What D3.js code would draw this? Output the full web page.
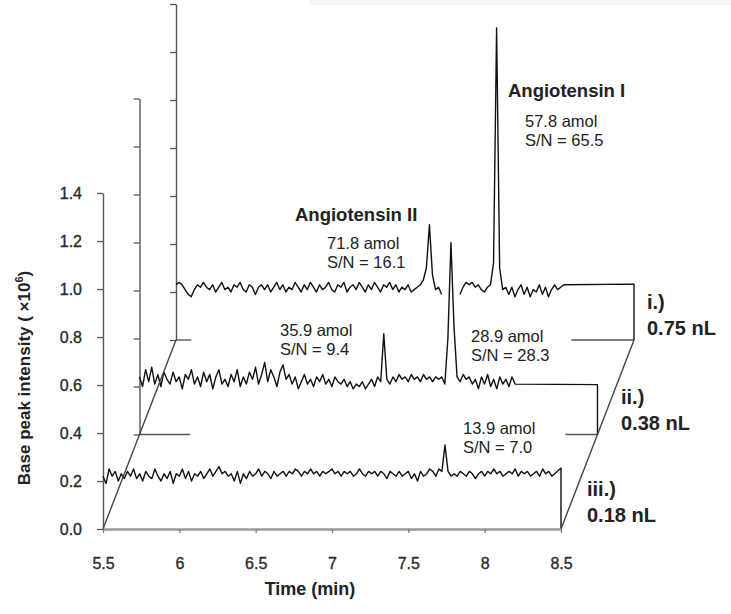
<!DOCTYPE html>
<html>
<head>
<meta charset="utf-8">
<script src="https://cdn.jsdelivr.net/npm/d3@7"></script>
<style>
  body { margin: 0; background: #fff; }
  text { font-family: "Liberation Sans", Arial, sans-serif; }
</style>
</head>
<body>
<script>
// Time axis ticks and intensity ticks (x10^6)
const timeTicks = [5.5, 6, 6.5, 7, 7.5, 8, 8.5];
const intensityTicks = [0, 0.2, 0.4, 0.6, 0.8, 1.0, 1.2, 1.4];
const timeStep = 0.02; // sampling of the traces, starting at 5.5 min

// i.) 0.75 nL  (back trace), null = hidden behind the peak of trace ii
const traceI = [
  0.23, 0.24, 0.23, 0.21, 0.19, 0.18, 0.21, 0.23, 0.22, 0.24,
  0.22, 0.21, 0.23, 0.20, 0.22, 0.24, 0.21, 0.22, 0.20, 0.23,
  0.22, 0.24, 0.21, 0.20, 0.23, 0.22, 0.19, 0.22, 0.23, 0.21,
  0.23, 0.20, 0.22, 0.24, 0.21, 0.23, 0.20, 0.22, 0.21, 0.24,
  0.22, 0.20, 0.23, 0.21, 0.24, 0.22, 0.20, 0.23, 0.21, 0.22,
  0.24, 0.21, 0.20, 0.23, 0.22, 0.24, 0.20, 0.22, 0.23, 0.21,
  0.24, 0.22, 0.20, 0.23, 0.21, 0.24, 0.22, 0.20, 0.23, 0.22,
  0.24, 0.21, 0.23, 0.20, 0.22, 0.21, 0.23, 0.20, 0.21, 0.22,
  0.23, 0.25, 0.30, 0.48, 0.27, 0.21, 0.22, 0.19, null, null,
  null, null, null, 0.19, 0.22, 0.24, 0.23, 0.24, 0.22, 0.23,
  0.21, 0.20, 0.22, 0.23, 0.32, 1.30, 0.30, 0.21, 0.22, 0.19,
  0.22, 0.18, 0.21, 0.23, 0.19, 0.22, 0.18, 0.21, 0.20, 0.23,
  0.19, 0.22, 0.18, 0.21, 0.23, 0.21, 0.22, 0.23
];

// ii.) 0.38 nL  (middle trace)
const traceII = [
  0.24, 0.20, 0.27, 0.22, 0.28, 0.21, 0.25, 0.20, 0.26, 0.23,
  0.21, 0.26, 0.22, 0.24, 0.19, 0.25, 0.23, 0.27, 0.21, 0.24,
  0.20, 0.26, 0.22, 0.25, 0.19, 0.24, 0.27, 0.21, 0.23, 0.20,
  0.25, 0.22, 0.27, 0.20, 0.24, 0.21, 0.26, 0.23, 0.28, 0.21,
  0.25, 0.30, 0.22, 0.27, 0.24, 0.20, 0.26, 0.29, 0.23, 0.25,
  0.21, 0.24, 0.19, 0.22, 0.25, 0.21, 0.23, 0.20, 0.24, 0.22,
  0.25, 0.21, 0.23, 0.20, 0.24, 0.22, 0.21, 0.23, 0.20, 0.22,
  0.19, 0.21, 0.20, 0.22, 0.19, 0.21, 0.23, 0.20, 0.24, 0.22,
  0.42, 0.23, 0.21, 0.24, 0.22, 0.25, 0.23, 0.24, 0.22, 0.25,
  0.23, 0.24, 0.22, 0.25, 0.23, 0.24, 0.22, 0.24, 0.23, 0.24,
  0.21, 0.40, 0.80, 0.45, 0.24, 0.22, 0.25, 0.23, 0.24, 0.21,
  0.23, 0.19, 0.24, 0.21, 0.25, 0.20, 0.23, 0.19, 0.24, 0.21,
  0.23, 0.20, 0.24, 0.21
];

// iii.) 0.18 nL  (front trace)
const traceIII = [
  0.22, 0.19, 0.25, 0.22, 0.24, 0.20, 0.23, 0.21, 0.24, 0.22,
  0.25, 0.21, 0.23, 0.20, 0.24, 0.22, 0.21, 0.25, 0.22, 0.20,
  0.23, 0.21, 0.24, 0.19, 0.23, 0.22, 0.25, 0.21, 0.24, 0.20,
  0.23, 0.22, 0.24, 0.21, 0.23, 0.25, 0.22, 0.24, 0.26, 0.23,
  0.24, 0.22, 0.23, 0.20, 0.24, 0.19, 0.23, 0.21, 0.24, 0.22,
  0.23, 0.25, 0.22, 0.24, 0.23, 0.21, 0.24, 0.22, 0.23, 0.24,
  0.22, 0.24, 0.23, 0.25, 0.24, 0.22, 0.24, 0.23, 0.25, 0.23,
  0.24, 0.22, 0.24, 0.23, 0.24, 0.25, 0.23, 0.24, 0.22, 0.24,
  0.23, 0.24, 0.22, 0.23, 0.25, 0.23, 0.22, 0.24, 0.23, 0.24,
  0.22, 0.24, 0.23, 0.21, 0.24, 0.23, 0.22, 0.24, 0.22, 0.23,
  0.24, 0.21, 0.23, 0.20, 0.24, 0.22, 0.23, 0.25, 0.24, 0.22,
  0.25, 0.24, 0.35, 0.24, 0.22, 0.23, 0.22, 0.24, 0.23, 0.22,
  0.24, 0.23, 0.21, 0.23, 0.24, 0.22, 0.24, 0.23, 0.25, 0.23,
  0.24, 0.22, 0.23, 0.24, 0.23, 0.25, 0.22, 0.24, 0.23, 0.24,
  0.22, 0.23, 0.24, 0.22, 0.25, 0.23, 0.24, 0.22
];

// flat level each trace holds until 8.5 min before dropping to zero
const tailLevels = [0.233, 0.208, 0.254];

// pieces of each back plane's floor line that stay visible: [depth, from, to]
const floorStubs = [[1, 5.5, 5.83], [1, 8.29, 8.5], [2, 5.5, 5.6], [2, 8.09, 8.5]];

const traceLabels = [["i.)", "0.75 nL"], ["ii.)", "0.38 nL"], ["iii.)", "0.18 nL"]];
const peakNames = ["Angiotensin I", "Angiotensin II"];
const peakNotes = [
  ["57.8 amol", "S/N = 65.5"],
  ["71.8 amol", "S/N = 16.1"],
  ["35.9 amol", "S/N = 9.4"],
  ["28.9 amol", "S/N = 28.3"],
  ["13.9 amol", "S/N = 7.0"]
];

const width = 731, height = 614;

const x = d3.scaleLinear().domain([5.5, 8.5]).range([103, 561]);
const y = d3.scaleLinear().domain([0, 1.4]).range([529, 193]);
// depth 0 = front plane, 2 = back plane
const depthX = d3.scaleLinear().domain([0, 2]).range([0, 73]);
const depthY = d3.scaleLinear().domain([0, 2]).range([0, -189]);

const svg = d3.select("body")
  .append("svg")
  .attr("width", width)
  .attr("height", height);

// faint grey band along the top edge of the scan
svg.append("rect")
  .attr("x", 310).attr("y", 0)
  .attr("width", width - 310).attr("height", 5)
  .attr("fill", "#f4f4f4");

const planes = [
  { depth: 2, values: traceI, tail: tailLevels[0] },
  { depth: 1, values: traceII, tail: tailLevels[1] },
  { depth: 0, values: traceIII, tail: tailLevels[2] }
];

planes.forEach(p => {
  const dx = depthX(p.depth), dy = depthY(p.depth);
  const g = svg.append("g").attr("transform", `translate(${dx},${dy})`);

  // y axis of this plane
  const yAxis = d3.axisLeft(y)
    .tickValues(intensityTicks)
    .tickSize(6)
    .tickSizeOuter(0)
    .tickPadding(15)
    .tickFormat(p.depth === 0 ? d3.format(".1f") : "");
  const ag = g.append("g")
    .attr("transform", `translate(${x(5.5)},0)`)
    .call(yAxis);
  ag.select(".domain").attr("stroke", "#555").attr("stroke-width", 1.4);
  ag.selectAll(".tick line").attr("stroke", "#555").attr("stroke-width", 1.3);
  ag.selectAll(".tick text")
    .attr("font-family", "'Liberation Sans', Arial, sans-serif")
    .attr("font-size", 16)
    .attr("fill", "#2a2a2a")
    .attr("stroke", "#2a2a2a")
    .attr("stroke-width", 0.35);

  // floor stubs
  floorStubs.filter(s => s[0] === p.depth).forEach(s => {
    g.append("line")
      .attr("x1", x(s[1])).attr("x2", x(s[2]))
      .attr("y1", y(0)).attr("y2", y(0))
      .attr("stroke", "#555").attr("stroke-width", 1.4);
  });

  const pts = p.values.map((v, i) => ({ t: 5.5 + i * timeStep, v }));
  pts.push({ t: 8.5, v: p.tail }, { t: 8.5, v: 0 });

  const line = d3.line()
    .defined(d => d.v !== null)
    .x(d => x(d.t))
    .y(d => y(d.v));

  g.append("path")
    .datum(pts)
    .attr("fill", "none")
    .attr("stroke", "#111")
    .attr("stroke-width", 1.4)
    .attr("stroke-linejoin", "round")
    .attr("d", line);
});

// depth diagonals
[5.5, 8.5].forEach(t => {
  svg.append("line")
    .attr("x1", x(t) + depthX(0)).attr("y1", y(0) + depthY(0))
    .attr("x2", x(t) + depthX(2)).attr("y2", y(0) + depthY(2))
    .attr("stroke", "#444").attr("stroke-width", 1.4);
});

// front time axis
const xAxis = d3.axisBottom(x)
  .tickValues(timeTicks)
  .tickSize(4)
  .tickSizeOuter(0)
  .tickPadding(25)
  .tickFormat(d => d);
const xg = svg.append("g")
  .attr("transform", `translate(0,${y(0)})`)
  .call(xAxis);
xg.select(".domain").attr("stroke", "#999").attr("stroke-width", 2.6);
xg.selectAll(".tick line").attr("stroke", "#777").attr("stroke-width", 1.2);
xg.selectAll(".tick text")
  .attr("font-family", "'Liberation Sans', Arial, sans-serif")
  .attr("font-size", 16)
  .attr("fill", "#2a2a2a")
  .attr("stroke", "#2a2a2a")
  .attr("stroke-width", 0.35);

// axis titles
svg.append("text")
  .attr("x", 310).attr("y", 595)
  .attr("text-anchor", "middle")
  .attr("font-size", 18).attr("font-weight", "bold").attr("fill", "#222")
  .text("Time (min)");

const yTitle = svg.append("text")
  .attr("transform", "translate(30,378) rotate(-90)")
  .attr("text-anchor", "middle")
  .attr("font-size", 17).attr("font-weight", "bold").attr("fill", "#222");
yTitle.append("tspan").text("Base peak intensity ( \u00d710");
yTitle.append("tspan").attr("font-size", 11).attr("dy", -7).text("6");
yTitle.append("tspan").attr("dy", 7).text(")");

// peak names
const namePos = [[508, 97], [295, 221]];
peakNames.forEach((n, i) => {
  svg.append("text")
    .attr("x", namePos[i][0]).attr("y", namePos[i][1])
    .attr("font-size", 18.5).attr("font-weight", "bold").attr("fill", "#222")
    .text(n);
});

// amounts and S/N
const notePos = [[525, 127], [327, 249], [280, 336], [471, 342], [463, 434]];
peakNotes.forEach((lines, i) => {
  lines.forEach((s, j) => {
    svg.append("text")
      .attr("x", notePos[i][0]).attr("y", notePos[i][1] + j * 19)
      .attr("font-size", 16.5).attr("fill", "#222")
      .text(s);
  });
});

// plane labels
const labelPos = [[647, 309], [621, 404], [587, 496]];
traceLabels.forEach((lines, i) => {
  lines.forEach((s, j) => {
    svg.append("text")
      .attr("x", labelPos[i][0]).attr("y", labelPos[i][1] + j * 26)
      .attr("font-size", 20).attr("font-weight", "bold").attr("fill", "#222")
      .text(s);
  });
});
</script>
</body>
</html>
